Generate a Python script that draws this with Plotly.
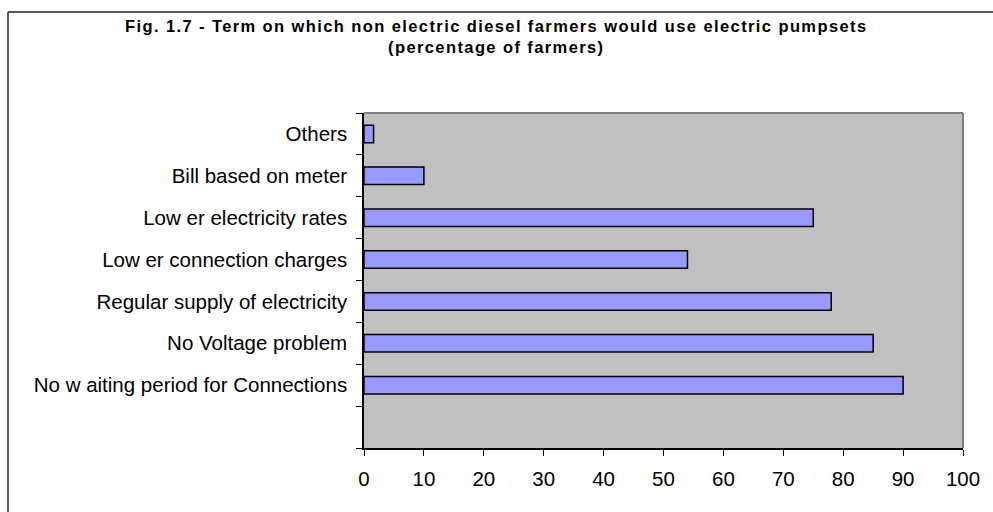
import plotly.graph_objects as go

# Reasons given, listed top to bottom, with the share of farmers (%)
reasons = [
    "Others",
    "Bill based on meter",
    "Low er electricity rates",
    "Low er connection charges",
    "Regular supply of electricity",
    "No Voltage problem",
    "No w aiting period for Connections",
]
share_pct = [1.6, 10, 75, 54, 78, 85, 90]

x_ticks = [0, 10, 20, 30, 40, 50, 60, 70, 80, 90, 100]

title_text = ("Fig. 1.7 - Term on which non electric diesel farmers would use electric pumpsets"
              "<br>(percentage of farmers)")

# category axis runs bottom-up; a blank slot sits below the last reason
cats = [" "] + reasons[::-1]
vals = [None] + share_pct[::-1]

W, H = 993, 512
L, R, T, B = 364, 30, 113, 64
pw, ph = W - L - R, H - T - B

fig = go.Figure(
    go.Bar(
        x=vals,
        y=cats,
        orientation="h",
        marker=dict(color="#9999FF", line=dict(color="#000000", width=1.5)),
        hoverinfo="x+y",
    )
)

def px_x(px):
    return (px - L) / pw

def px_y(py):
    return (H - B - py) / ph

shapes = [
    # grey top and right edges of the plot area
    dict(type="line", xref="paper", yref="paper", x0=0, x1=1, y0=1, y1=1,
         line=dict(color="#808080", width=2)),
    dict(type="line", xref="paper", yref="paper", x0=1, x1=1, y0=0, y1=1,
         line=dict(color="#808080", width=2)),
    # outer chart frame
    dict(type="line", xref="paper", yref="paper", x0=px_x(8), x1=px_x(W + 10),
         y0=px_y(12), y1=px_y(12), line=dict(color="#222222", width=1.5)),
    dict(type="line", xref="paper", yref="paper", x0=px_x(8), x1=px_x(8),
         y0=px_y(12), y1=px_y(H + 10), line=dict(color="#222222", width=1.5)),
]

annotations = [
    dict(
        text=title_text,
        xref="paper",
        yref="paper",
        x=px_x(W / 2),
        y=px_y(15),
        xanchor="center",
        yanchor="top",
        showarrow=False,
        align="center",
        font=dict(family="Liberation Sans, Arial, sans-serif", size=16.5,
                  color="#000000", weight="bold"),
    )
]

fig.update_layout(
    width=W,
    height=H,
    margin=dict(l=L, r=R, t=T, b=B),
    paper_bgcolor="#FFFFFF",
    plot_bgcolor="#C0C0C0",
    bargap=0.58,
    showlegend=False,
    font=dict(family="Liberation Sans, Arial, sans-serif", size=20.5, color="#000000"),
    xaxis=dict(
        range=[0, 100],
        tickvals=x_ticks,
        ticktext=[str(v) for v in x_ticks],
        ticks="outside",
        ticklen=6,
        tickcolor="#000000",
        ticklabelstandoff=6,
        showline=True,
        linecolor="#000000",
        linewidth=1.5,
        showgrid=False,
        zeroline=False,
        fixedrange=True,
    ),
    yaxis=dict(
        type="category",
        categoryorder="array",
        categoryarray=cats,
        range=[-0.5, len(cats) - 0.5],
        tickson="boundaries",
        ticks="outside",
        ticklen=6,
        tickcolor="#000000",
        ticklabelstandoff=11,
        showline=True,
        linecolor="#000000",
        linewidth=1.5,
        showgrid=False,
        zeroline=False,
        fixedrange=True,
    ),
    shapes=shapes,
    annotations=annotations,
)

letter_spacing_js = (
    "document.querySelectorAll('.annotation-text').forEach(function(t){"
    "t.style.letterSpacing='1.4px';});"
)

fig.write_html("out.html", post_script=letter_spacing_js)
